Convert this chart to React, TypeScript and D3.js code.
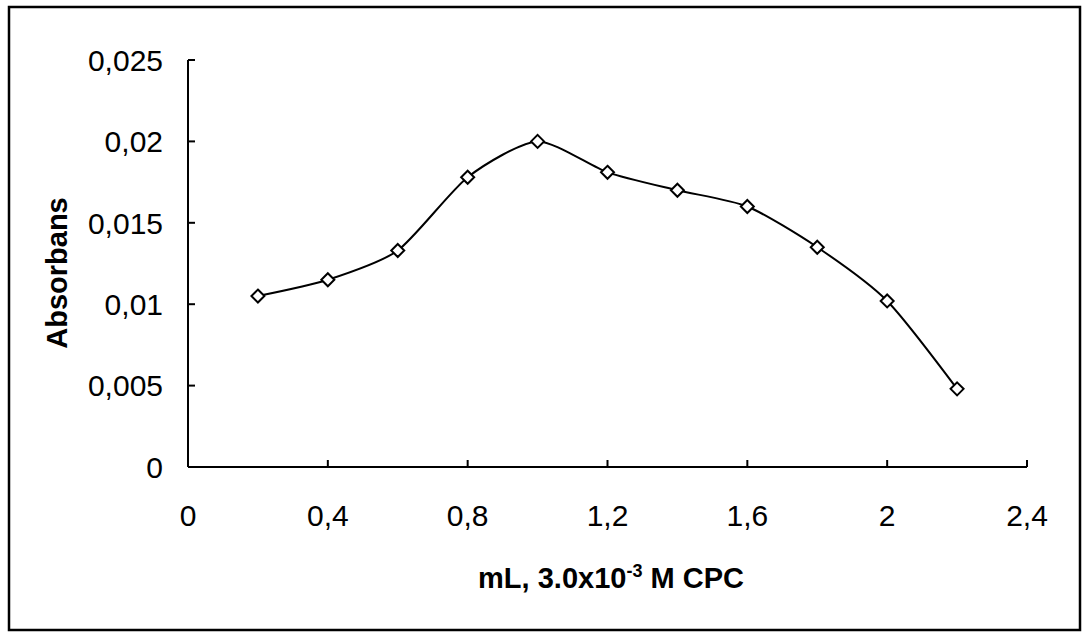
import React from "react";
import * as d3 from "d3";

const xValues = [0.2, 0.4, 0.6, 0.8, 1.0, 1.2, 1.4, 1.6, 1.8, 2.0, 2.2];
const yValues = [0.0105, 0.0115, 0.0133, 0.0178, 0.02, 0.0181, 0.017, 0.016, 0.0135, 0.0102, 0.0048];
const xTicks = [0, 0.4, 0.8, 1.2, 1.6, 2, 2.4];
const yTicks = [0, 0.005, 0.01, 0.015, 0.02, 0.025];
const yTitle = "Absorbans";

const W = 1083;
const H = 632;
const fmt = (v: number) => String(+v.toFixed(3)).replace(".", ",");

export default function App() {
  const x = d3.scaleLinear().domain([0, 2.4]).range([188, 1027]);
  const y = d3.scaleLinear().domain([0, 0.025]).range([467, 60]);
  const pts = xValues.map((v, i) => [x(v), y(yValues[i])] as [number, number]);
  const line = d3.line().curve(d3.curveCardinal.tension(0.3))(pts) || "";
  const font = "'Liberation Sans', Arial, sans-serif";
  const s = 6.5;
  return (
    <svg width={W} height={H} style={{ position: "absolute", left: 0, top: 0, background: "#fff" }} fontFamily={font}>
      <rect x={0} y={0} width={W} height={H} fill="#fff" />
      <rect x={9} y={7} width={1071} height={623} fill="none" stroke="#000" strokeWidth={2.5} />
      <line x1={x(0)} x2={x(0)} y1={y(0.025)} y2={y(0)} stroke="#000" strokeWidth={2} />
      <line x1={x(0)} x2={x(2.4)} y1={y(0)} y2={y(0)} stroke="#000" strokeWidth={2} />
      {yTicks.map((t) => (
        <g key={"y" + t}>
          <line x1={x(0)} x2={x(0) + 7} y1={y(t)} y2={y(t)} stroke="#000" strokeWidth={2} />
          <text x={163} y={y(t)} dy="0.36em" textAnchor="end" fontSize={30}>
            {fmt(t)}
          </text>
        </g>
      ))}
      {xTicks.map((t) => (
        <g key={"x" + t}>
          <line x1={x(t)} x2={x(t)} y1={y(0)} y2={y(0) - 7} stroke="#000" strokeWidth={2} />
          <text x={x(t)} y={526} textAnchor="middle" fontSize={30}>
            {fmt(t)}
          </text>
        </g>
      ))}
      <path d={line} fill="none" stroke="#000" strokeWidth={2} />
      {pts.map(([px, py], i) => (
        <path
          key={i}
          d={`M${px},${py - s}L${px + s},${py}L${px},${py + s}L${px - s},${py}Z`}
          fill="#fff"
          stroke="#000"
          strokeWidth={2}
        />
      ))}
      <text x={611} y={588} textAnchor="middle" fontSize={29} fontWeight="bold">
        mL, 3.0x10<tspan dy={-11} fontSize={18}>-3</tspan>
        <tspan dy={11}> M  CPC</tspan>
      </text>
      <text transform={`translate(67,273) rotate(-90)`} textAnchor="middle" fontSize={29} fontWeight="bold">
        {yTitle}
      </text>
    </svg>
  );
}
